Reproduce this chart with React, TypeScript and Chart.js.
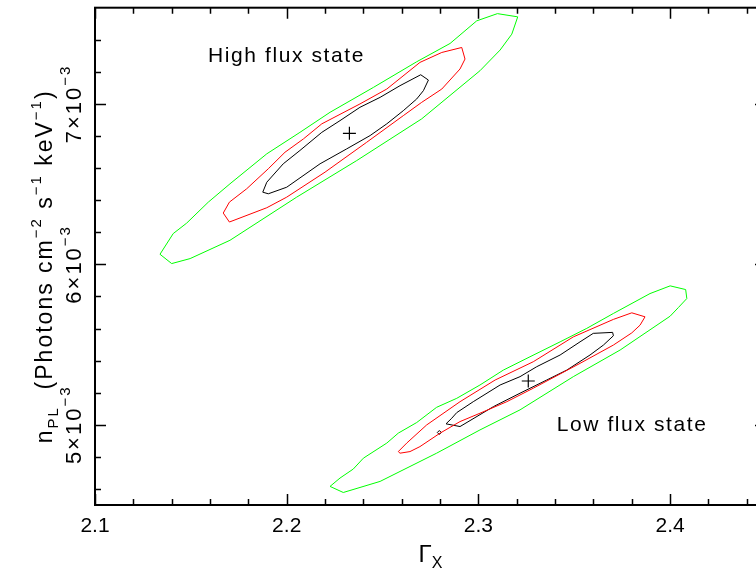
import React, { useEffect, useRef } from "react";
import { Chart, registerables } from "chart.js";

Chart.register(...registerables);

// ---------- axis ticks ----------
const xMajorTicks = [2.1, 2.2, 2.3, 2.4];
const xMinorTicks = [2.12, 2.14, 2.16, 2.18, 2.22, 2.24, 2.26, 2.28, 2.32, 2.34, 2.36, 2.38, 2.42, 2.44];
const yMajorTicks = [5e-3, 6e-3, 7e-3];
const yMajorMantissa = ["5", "6", "7"];
const yMinorTicks = [4.6e-3, 4.8e-3, 5.2e-3, 5.4e-3, 5.6e-3, 5.8e-3, 6.2e-3, 6.4e-3, 6.6e-3, 6.8e-3, 7.2e-3, 7.4e-3];

// ---------- High flux state contours ----------
const highOuterGamma = [2.3099, 2.3205, 2.3174, 2.3113, 2.3008, 2.2704, 2.2365, 2.2052, 2.1704, 2.1496, 2.1400, 2.1339, 2.1408, 2.1478, 2.1591, 2.1704, 2.1896, 2.2069, 2.2226, 2.2452, 2.2678, 2.2852, 2.2991];
const highOuterNorm = [7.563e-3, 7.543e-3, 7.435e-3, 7.336e-3, 7.207e-3, 6.907e-3, 6.647e-3, 6.419e-3, 6.150e-3, 6.036e-3, 6.005e-3, 6.063e-3, 6.192e-3, 6.257e-3, 6.388e-3, 6.502e-3, 6.689e-3, 6.823e-3, 6.948e-3, 7.103e-3, 7.263e-3, 7.377e-3, 7.518e-3];

const highMidGamma = [2.2913, 2.2930, 2.2904, 2.2809, 2.2704, 2.2608, 2.2417, 2.2200, 2.2000, 2.1896, 2.1701, 2.1669, 2.1701, 2.1791, 2.1904, 2.1991, 2.2087, 2.2183, 2.2382, 2.2522, 2.2695, 2.2809];
const highMidNorm = [7.352e-3, 7.280e-3, 7.218e-3, 7.093e-3, 7.010e-3, 6.927e-3, 6.761e-3, 6.575e-3, 6.419e-3, 6.353e-3, 6.264e-3, 6.320e-3, 6.388e-3, 6.471e-3, 6.596e-3, 6.699e-3, 6.782e-3, 6.876e-3, 7.000e-3, 7.093e-3, 7.259e-3, 7.321e-3];

const highInnerGamma = [2.2699, 2.2739, 2.2713, 2.2678, 2.2608, 2.2522, 2.2435, 2.2313, 2.2174, 2.2000, 2.1904, 2.1875, 2.1896, 2.1982, 2.2069, 2.2183, 2.2278, 2.2382, 2.2487, 2.2591];
const highInnerNorm = [7.182e-3, 7.149e-3, 7.083e-3, 7.031e-3, 6.958e-3, 6.876e-3, 6.803e-3, 6.720e-3, 6.627e-3, 6.481e-3, 6.440e-3, 6.450e-3, 6.512e-3, 6.627e-3, 6.710e-3, 6.823e-3, 6.896e-3, 6.979e-3, 7.041e-3, 7.114e-3];

const highBestGamma = [2.2327];
const highBestNorm = [6.817e-3];

// ---------- Low flux state contours ----------
const lowOuterGamma = [2.4000, 2.4081, 2.4087, 2.4043, 2.4000, 2.3739, 2.3495, 2.3217, 2.3008, 2.2782, 2.2487, 2.2295, 2.2226, 2.2278, 2.2347, 2.2400, 2.2522, 2.2582, 2.2678, 2.2782, 2.2887, 2.3008, 2.3130, 2.3269, 2.3426, 2.3565, 2.3704, 2.3895];
const lowOuterNorm = [5.866e-3, 5.843e-3, 5.787e-3, 5.731e-3, 5.677e-3, 5.466e-3, 5.300e-3, 5.093e-3, 4.968e-3, 4.823e-3, 4.647e-3, 4.578e-3, 4.616e-3, 4.668e-3, 4.724e-3, 4.792e-3, 4.886e-3, 4.948e-3, 5.014e-3, 5.109e-3, 5.165e-3, 5.248e-3, 5.341e-3, 5.424e-3, 5.517e-3, 5.601e-3, 5.694e-3, 5.818e-3];

const lowMidGamma = [2.3800, 2.3869, 2.3843, 2.3800, 2.3704, 2.3530, 2.3286, 2.3148, 2.3008, 2.2904, 2.2800, 2.2695, 2.2643, 2.2591, 2.2582, 2.2626, 2.2730, 2.2904, 2.3087, 2.3286, 2.3495, 2.3704];
const lowMidNorm = [5.698e-3, 5.673e-3, 5.621e-3, 5.573e-3, 5.497e-3, 5.383e-3, 5.228e-3, 5.144e-3, 5.072e-3, 5.020e-3, 4.948e-3, 4.864e-3, 4.833e-3, 4.823e-3, 4.833e-3, 4.886e-3, 4.999e-3, 5.144e-3, 5.279e-3, 5.393e-3, 5.548e-3, 5.657e-3];

const lowInnerGamma = [2.3599, 2.3700, 2.3704, 2.3652, 2.3582, 2.3461, 2.3356, 2.3217, 2.3078, 2.2904, 2.2831, 2.2861, 2.2887, 2.2973, 2.3113, 2.3217, 2.3304, 2.3426, 2.3530];
const lowInnerNorm = [5.570e-3, 5.576e-3, 5.555e-3, 5.497e-3, 5.435e-3, 5.341e-3, 5.279e-3, 5.197e-3, 5.113e-3, 4.989e-3, 5.006e-3, 5.041e-3, 5.076e-3, 5.144e-3, 5.248e-3, 5.300e-3, 5.362e-3, 5.435e-3, 5.517e-3];

const lowIslandGamma = [2.2796];
const lowIslandNorm = [4.952e-3];

const lowBestGamma = [2.3260];
const lowBestNorm = [5.273e-3];

// ---------- annotations ----------
const stateLabels = ["High flux state", "Low flux state"];
const stateLabelGamma = [2.1589, 2.3408];
const stateLabelNorm = [7.295e-3, 4.996e-3];

const FONT = '"Liberation Sans", Arial, Helvetica, sans-serif';
const GREEN = "#00ff00";
const RED = "#ff0000";
const BLACK = "#000000";

function closed(gx: number[], ny: number[]) {
  const pts = gx.map((g, i) => ({ x: g, y: ny[i] }));
  pts.push({ x: gx[0], y: ny[0] });
  return pts;
}
function pts(gx: number[], ny: number[]) {
  return gx.map((g, i) => ({ x: g, y: ny[i] }));
}

type Part = { t: string; s: number; dy?: number };

function drawRich(ctx: CanvasRenderingContext2D, parts: Part[], cx: number, cy: number, rot: number, spacing: number) {
  ctx.save();
  ctx.translate(cx, cy);
  ctx.rotate(rot);
  (ctx as any).letterSpacing = spacing + "px";
  ctx.textBaseline = "alphabetic";
  ctx.textAlign = "left";
  let total = 0;
  const widths = parts.map((p) => {
    ctx.font = `${p.s}px ${FONT}`;
    const w = ctx.measureText(p.t).width;
    total += w;
    return w;
  });
  let x = -total / 2;
  parts.forEach((p, i) => {
    ctx.font = `${p.s}px ${FONT}`;
    ctx.fillText(p.t, x, p.dy || 0);
    x += widths[i];
  });
  ctx.restore();
}

const decorPlugin = {
  id: "pgplotDecor",
  afterDraw(chart: any) {
    const { ctx, chartArea: ca } = chart;
    const xs = chart.scales.x;
    const ys = chart.scales.y;
    ctx.save();
    ctx.strokeStyle = "#000";
    ctx.fillStyle = "#000";
    ctx.lineWidth = 2;
    ctx.strokeRect(ca.left, ca.top, ca.right - ca.left, ca.bottom - ca.top);
    ctx.lineWidth = 1.5;
    ctx.beginPath();
    const xt = (v: number, L: number) => {
      const p = Math.round(xs.getPixelForValue(v)) + 0.5;
      ctx.moveTo(p, ca.bottom); ctx.lineTo(p, ca.bottom - L);
      ctx.moveTo(p, ca.top); ctx.lineTo(p, ca.top + L);
    };
    const yt = (v: number, L: number) => {
      const p = Math.round(ys.getPixelForValue(v)) + 0.5;
      ctx.moveTo(ca.left, p); ctx.lineTo(ca.left + L, p);
      ctx.moveTo(ca.right, p); ctx.lineTo(ca.right - L, p);
    };
    xMajorTicks.forEach((v) => xt(v, 11));
    xMinorTicks.forEach((v) => xt(v, 6));
    yMajorTicks.forEach((v) => yt(v, 11));
    yMinorTicks.forEach((v) => yt(v, 6));
    ctx.stroke();

    // y tick labels (rotated, with exponent)
    yMajorTicks.forEach((v, i) => {
      const p = ys.getPixelForValue(v);
      drawRich(ctx, [
        { t: yMajorMantissa[i] + "×10", s: 22 },
        { t: "−3", s: 15, dy: -11 },
      ], 81, p, -Math.PI / 2, 2);
    });

    // y title
    const yMid = (ca.top + ca.bottom) / 2 + 10;
    drawRich(ctx, [
      { t: "n", s: 23 },
      { t: "PL", s: 15, dy: 6 },
      { t: "  (Photons cm", s: 23 },
      { t: "−2", s: 15, dy: -11 },
      { t: " s", s: 23 },
      { t: "−1", s: 15, dy: -11 },
      { t: " keV", s: 23 },
      { t: "−1", s: 15, dy: -11 },
      { t: ")", s: 23 },
    ], 52, yMid, -Math.PI / 2, 2);

    // x title
    const xMid = (ca.left + ca.right) / 2;
    drawRich(ctx, [
      { t: "Γ", s: 24 },
      { t: "X", s: 16, dy: 6 },
    ], xMid, 562, 0, 0);

    // state labels
    (ctx as any).letterSpacing = "1.6px";
    ctx.font = `21px ${FONT}`;
    ctx.textAlign = "left";
    ctx.textBaseline = "middle";
    stateLabels.forEach((s, i) => {
      ctx.fillText(s, xs.getPixelForValue(stateLabelGamma[i]), ys.getPixelForValue(stateLabelNorm[i]));
    });
    ctx.restore();
  },
};

function lineDs(data: any[], color: string) {
  return {
    type: "line" as const,
    data,
    borderColor: color,
    borderWidth: 1,
    pointRadius: 0,
    tension: 0,
    fill: false,
    showLine: true,
  };
}

export default function App() {
  const ref = useRef<HTMLCanvasElement | null>(null);
  useEffect(() => {
    if (!ref.current) return;
    const chart = new Chart(ref.current, {
      type: "scatter",
      data: {
        datasets: [
          lineDs(closed(highOuterGamma, highOuterNorm), GREEN),
          lineDs(closed(lowOuterGamma, lowOuterNorm), GREEN),
          lineDs(closed(highMidGamma, highMidNorm), RED),
          lineDs(closed(lowMidGamma, lowMidNorm), RED),
          lineDs(closed(highInnerGamma, highInnerNorm), BLACK),
          lineDs(closed(lowInnerGamma, lowInnerNorm), BLACK),
          {
            type: "scatter" as const,
            data: pts(lowIslandGamma, lowIslandNorm),
            pointStyle: "rectRot",
            pointRadius: 2,
            borderColor: BLACK,
            backgroundColor: "rgba(0,0,0,0)",
            borderWidth: 1,
          },
          {
            type: "scatter" as const,
            data: [...pts(highBestGamma, highBestNorm), ...pts(lowBestGamma, lowBestNorm)],
            pointStyle: "cross",
            pointRadius: 6.5,
            borderColor: BLACK,
            borderWidth: 1.2,
          },
        ] as any,
      },
      options: {
        responsive: false,
        animation: false,
        devicePixelRatio: 1,
        layout: { padding: { top: 7, right: 14, left: 0, bottom: 0 } },
        plugins: { legend: { display: false }, tooltip: { enabled: false } },
        scales: {
          x: {
            type: "linear",
            min: 2.1,
            max: 2.45,
            grid: { display: false, drawTicks: false },
            border: { display: false },
            afterBuildTicks: (s: any) => {
              s.ticks = xMajorTicks.map((v) => ({ value: v }));
            },
            ticks: {
              font: { family: FONT, size: 21 },
              color: "#000",
              padding: 8.4,
              maxRotation: 0,
              minRotation: 0,
              autoSkip: false,
              callback: (v: any) => String(Math.round(Number(v) * 10) / 10),
            },
            afterFit: (s: any) => {
              s.height = 72;
            },
          },
          y: {
            type: "linear",
            min: 4.5e-3,
            max: 7.6e-3,
            grid: { display: false, drawTicks: false },
            border: { display: false },
            ticks: { display: false },
            afterFit: (s: any) => {
              s.width = 95;
            },
          },
        },
      } as any,
      plugins: [decorPlugin],
    });
    return () => chart.destroy();
  }, []);

  return (
    <div style={{ position: "fixed", left: 0, top: 0, width: 756, height: 577, overflow: "hidden", background: "#fff" }}>
      <canvas ref={ref} width={780} height={577} style={{ display: "block", width: 780, height: 577 }} />
    </div>
  );
}
